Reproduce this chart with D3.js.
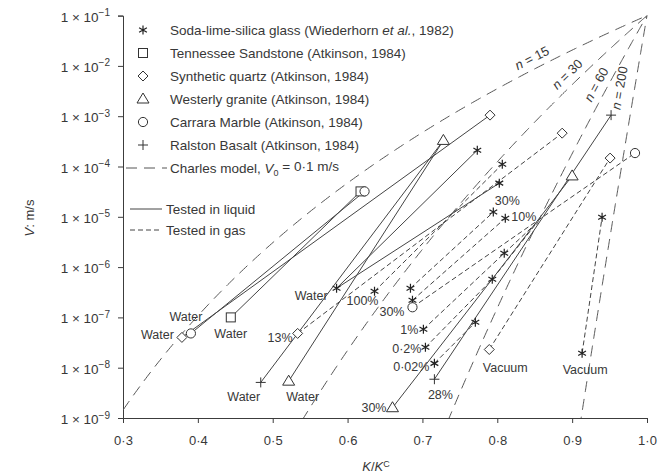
<!DOCTYPE html>
<html><head><meta charset="utf-8">
<script src="https://cdn.jsdelivr.net/npm/d3@7"></script>
<style>
body{margin:0;background:#fff}
text{font-family:"Liberation Sans",Arial,Helvetica,sans-serif;fill:#383838}
</style>
</head><body>
<svg id="chart" width="664" height="476"></svg>
<script>
// ---------- data ----------
const xTicks = [0.3, 0.4, 0.5, 0.6, 0.7, 0.8, 0.9, 1.0];
const xTickLabels = ["0·3", "0·4", "0·5", "0·6", "0·7", "0·8", "0·9", "1·0"];
const yTickExponents = [-1, -2, -3, -4, -5, -6, -7, -8, -9];

const V0 = 0.1;
const charlesN = [15, 30, 60, 200];
const charlesLabelK = [0.853, 0.9035, 0.945, 0.983];

const seriesKeys = ["glass", "sandstone", "quartz", "granite", "marble", "basalt"];
const legendLabels = [
  ["Soda-lime-silica glass (Wiederhorn ", "et al.", ", 1982)"],
  ["Tennessee Sandstone (Atkinson, 1984)"],
  ["Synthetic quartz (Atkinson, 1984)"],
  ["Westerly granite (Atkinson, 1984)"],
  ["Carrara Marble (Atkinson, 1984)"],
  ["Ralston Basalt (Atkinson, 1984)"]
];

// crack-velocity segments: [K/Kc start, V start, K/Kc end, V end, environment type]
const glassLines = [
  [0.5853, 3.8e-7, 0.7733, 2.11e-4, "liquid"],
  [0.5853, 3.8e-7, 0.8027, 4.67e-5, "liquid"],
  [0.636, 3.3e-7, 0.8067, 1.11e-4, "gas"],
  [0.684, 3.8e-7, 0.7947, 1.24e-5, "gas"],
  [0.6867, 2.19e-7, 0.8107, 9.38e-6, "gas"],
  [0.7013, 5.8e-8, 0.8093, 1.89e-6, "gas"],
  [0.8093, 1.89e-6, 0.853, 7.7e-6, "gas"],
  [0.704, 2.54e-8, 0.7933, 5.73e-7, "gas"],
  [0.7933, 5.73e-7, 0.853, 7.7e-6, "gas"],
  [0.716, 1.22e-8, 0.7707, 7.98e-8, "gas"],
  [0.9133, 1.93e-8, 0.94, 9.8e-6, "gas"]
];
const sandstoneLines = [
  [0.444, 1.0e-7, 0.6173, 3.2e-5, "liquid"]
];
const quartzLines = [
  [0.3787, 4.0e-8, 0.7903, 1.05e-3, "liquid"],
  [0.5333, 4.8e-8, 0.8867, 4.6e-4, "gas"],
  [0.7893, 2.3e-8, 0.9507, 1.47e-4, "gas"]
];
const graniteLines = [
  [0.5213, 5.4e-9, 0.728, 3.3e-4, "liquid"],
  [0.66, 1.6e-9, 0.90, 6.5e-5, "liquid"]
];
const marbleLines = [
  [0.3907, 4.8e-8, 0.6227, 3.2e-5, "liquid"],
  [0.6867, 1.59e-7, 0.984, 1.85e-4, "gas"]
];
const basaltLines = [
  [0.484, 5.1e-9, 0.728, 3.3e-4, "liquid"],
  [0.716, 5.9e-9, 0.952, 1.05e-3, "liquid"]
];

// marker points [K/Kc, V]
const glassPoints = [
  [0.5853, 3.8e-7], [0.636, 3.3e-7], [0.684, 3.8e-7], [0.6867, 2.19e-7],
  [0.7013, 5.8e-8], [0.704, 2.54e-8], [0.716, 1.22e-8], [0.9133, 1.93e-8],
  [0.7733, 2.11e-4], [0.8067, 1.11e-4], [0.8027, 4.67e-5], [0.7947, 1.24e-5],
  [0.8107, 9.38e-6], [0.8093, 1.89e-6], [0.7933, 5.73e-7], [0.7707, 7.98e-8], [0.94, 9.8e-6]
];
const sandstonePoints = [[0.444, 1.0e-7], [0.6173, 3.2e-5]];
const quartzPoints = [[0.3787, 4.0e-8], [0.7903, 1.05e-3], [0.5333, 4.8e-8], [0.8867, 4.6e-4], [0.7893, 2.3e-8], [0.9507, 1.47e-4]];
const granitePoints = [[0.5213, 5.4e-9], [0.728, 3.3e-4], [0.66, 1.6e-9], [0.90, 6.5e-5]];
const marblePoints = [[0.3907, 4.8e-8], [0.6227, 3.2e-5], [0.6867, 1.59e-7], [0.984, 1.85e-4]];
const basaltPoints = [[0.484, 5.1e-9], [0.716, 5.9e-9], [0.952, 1.05e-3]];

// annotations: [text, K/Kc, V, dx, dy, anchor]
const annotations = [
  ["Water", 0.3787, 4.0e-8, -8, -3, "end"],
  ["Water", 0.3907, 4.8e-8, -5, -17, "middle"],
  ["Water", 0.444, 1.0e-7, 0, 16, "middle"],
  ["13%", 0.5333, 4.8e-8, -5, 4, "end"],
  ["Water", 0.484, 5.1e-9, -17, 14, "middle"],
  ["Water", 0.5213, 5.4e-9, 14, 15, "middle"],
  ["Water", 0.5853, 3.8e-7, -9, 7, "end"],
  ["100%", 0.636, 3.3e-7, -12, 9, "middle"],
  ["30%", 0.6867, 1.59e-7, -8, 4, "end"],
  ["1%", 0.7013, 5.8e-8, -5, 0, "end"],
  ["0·2%", 0.704, 2.54e-8, -4, 1, "end"],
  ["0·02%", 0.716, 1.22e-8, -5, 3, "end"],
  ["28%", 0.716, 5.9e-9, 6, 15, "middle"],
  ["30%", 0.66, 1.6e-9, -6, 0, "end"],
  ["Vacuum", 0.7893, 2.3e-8, 16, 18, "middle"],
  ["Vacuum", 0.9133, 1.93e-8, 3, 16, "middle"],
  ["30%", 0.7947, 1.24e-5, 14, -11, "middle"],
  ["10%", 0.8107, 9.38e-6, 6, -2, "start"]
];

// ---------- drawing ----------
const svg = d3.select("#chart");
const x = d3.scaleLinear().domain([0.3, 1.0]).range([123, 647]);
const y = d3.scaleLog().domain([1e-9, 1e-1]).range([418, 15.6]);
const ink = "#3c3c3c";

// axes
const xAxis = d3.axisBottom(x).tickValues(xTicks).tickSize(5).tickFormat((d, i) => xTickLabels[i]);
const gx = svg.append("g").attr("transform", `translate(0,${y(1e-9)})`).call(xAxis);
gx.select(".domain").attr("stroke", ink);
gx.selectAll(".tick line").attr("stroke", ink);
gx.selectAll(".tick text").attr("dy", "1.45em").style("font-size", "13px").attr("fill", "#383838");

const yAxis = d3.axisLeft(y).tickValues(yTickExponents.map(e => Math.pow(10, e))).tickSize(5).tickFormat("");
const gy = svg.append("g").attr("transform", `translate(${x(0.3)},0)`).call(yAxis);
gy.select(".domain").attr("stroke", ink);
gy.selectAll(".tick line").attr("stroke", ink);
yTickExponents.forEach(e => {
  const t = svg.append("text").attr("x", 110).attr("y", y(Math.pow(10, e))).attr("dy", "0.45em")
    .attr("text-anchor", "end").style("font-size", "13.5px");
  t.append("tspan").text("1 × 10");
  t.append("tspan").attr("dy", "-0.55em").style("font-size", "10px").text("−" + Math.abs(e));
});

// axis titles
const xt = svg.append("text").attr("x", 376).attr("y", 471).attr("text-anchor", "middle").style("font-size", "13px");
xt.append("tspan").style("font-style", "italic").text("K");
xt.append("tspan").text("/");
xt.append("tspan").style("font-style", "italic").text("K");
xt.append("tspan").attr("dy", "-0.5em").style("font-size", "9px").text("C");

const yt = svg.append("text").attr("transform", "translate(34,218) rotate(-90)").attr("text-anchor", "middle").style("font-size", "13px");
yt.append("tspan").style("font-style", "italic").text("V");
yt.append("tspan").text(": m/s");

// clip
svg.append("clipPath").attr("id", "plotclip").append("rect")
  .attr("x", x(0.3)).attr("y", y(1e-1) - 2).attr("width", x(1.0) - x(0.3) + 2).attr("height", y(1e-9) - y(1e-1) + 2);
const plot = svg.append("g").attr("clip-path", "url(#plotclip)");

// Charles model curves
const line = d3.line().x(d => x(d[0])).y(d => y(d[1]));
charlesN.forEach(n => {
  const kmin = Math.max(0.3, Math.pow(1e-9 / V0, 1 / n) - 0.002);
  const pts = d3.range(0, 301).map(i => {
    const k = kmin + (1 - kmin) * i / 300;
    return [k, V0 * Math.pow(k, n)];
  });
  plot.append("path").attr("d", line(pts)).attr("fill", "none").attr("stroke", "#555")
    .attr("stroke-width", 1).attr("stroke-dasharray", "11,7");
});
// Charles labels
charlesN.forEach((n, i) => {
  const k = charlesLabelK[i];
  const px = x(k), py = y(V0 * Math.pow(k, n));
  const dk = 0.001;
  const slope = (y(V0 * Math.pow(k + dk, n)) - py) / (x(k + dk) - px);
  const ang = Math.atan(slope);
  const th = -ang;
  const off = n === 200 ? 15 : 11;
  const cx = px - off * Math.sin(th), cy = py - off * Math.cos(th);
  const t = svg.append("text").attr("transform", `translate(${cx},${cy}) rotate(${ang * 180 / Math.PI})`)
    .attr("text-anchor", "middle").attr("dy", "0.35em").style("font-size", "13px");
  t.append("tspan").style("font-style", "italic").text("n");
  t.append("tspan").text(" = " + n);
});

// data segments
const allLines = [glassLines, sandstoneLines, quartzLines, graniteLines, marbleLines, basaltLines];
allLines.forEach(arr => {
  arr.forEach(s => {
    plot.append("line").attr("x1", x(s[0])).attr("y1", y(s[1])).attr("x2", x(s[2])).attr("y2", y(s[3]))
      .attr("stroke", "#444").attr("stroke-width", 1)
      .attr("stroke-dasharray", s[4] === "gas" ? "5,3" : null);
  });
});

// markers
function drawMarker(g, key, cx, cy) {
  const st = {fill: "#fff", stroke: "#333", "stroke-width": 1};
  let el;
  if (key === "glass") {
    const r = 4.5, a = Math.PI / 6;
    g.append("path").attr("d",
      `M${cx},${cy - r}L${cx},${cy + r}M${cx - r * Math.cos(a)},${cy - r * Math.sin(a)}L${cx + r * Math.cos(a)},${cy + r * Math.sin(a)}M${cx - r * Math.cos(a)},${cy + r * Math.sin(a)}L${cx + r * Math.cos(a)},${cy - r * Math.sin(a)}`)
      .attr("stroke", "#222").attr("stroke-width", 1.2).attr("fill", "none");
    return;
  }
  if (key === "basalt") {
    g.append("path").attr("d", `M${cx - 5},${cy}L${cx + 5},${cy}M${cx},${cy - 5}L${cx},${cy + 5}`)
      .attr("stroke", "#333").attr("stroke-width", 1).attr("fill", "none");
    return;
  }
  if (key === "sandstone") el = g.append("rect").attr("x", cx - 4.5).attr("y", cy - 4.5).attr("width", 9).attr("height", 9);
  if (key === "quartz") el = g.append("path").attr("d", `M${cx},${cy - 5}L${cx + 5},${cy}L${cx},${cy + 5}L${cx - 5},${cy}Z`);
  if (key === "granite") el = g.append("path").attr("d", `M${cx},${cy - 6}L${cx + 6},${cy + 4}L${cx - 6},${cy + 4}Z`);
  if (key === "marble") el = g.append("circle").attr("cx", cx).attr("cy", cy).attr("r", 4.6);
  Object.entries(st).forEach(([k, v]) => el.attr(k, v));
}
const allPoints = [glassPoints, sandstonePoints, quartzPoints, granitePoints, marblePoints, basaltPoints];
const markerLayer = svg.append("g");
allPoints.forEach((arr, i) => arr.forEach(p => drawMarker(markerLayer, seriesKeys[i], x(p[0]), y(p[1]))));

// annotations
annotations.forEach(a => {
  svg.append("text").attr("x", x(a[1]) + a[3]).attr("y", y(a[2]) + a[4]).attr("dy", "0.35em")
    .attr("text-anchor", a[5]).style("font-size", "12.5px").text(a[0]);
});

// legend
const legend = svg.append("g");
const legY0 = 30, legStep = 23;
seriesKeys.forEach((key, i) => {
  const ly = legY0 + i * legStep;
  drawMarker(legend, key, 143, ly);
  const t = legend.append("text").attr("x", 170).attr("y", ly).attr("dy", "0.35em").style("font-size", "13.5px");
  legendLabels[i].forEach(part => {
    t.append("tspan").style("font-style", part === "et al." ? "italic" : null).text(part);
  });
});
// Charles legend
const cy0 = legY0 + 6 * legStep;
legend.append("line").attr("x1", 126).attr("x2", 167).attr("y1", cy0).attr("y2", cy0)
  .attr("stroke", "#555").attr("stroke-dasharray", "11,7");
const ct = legend.append("text").attr("x", 170).attr("y", cy0).attr("dy", "0.35em").style("font-size", "13.5px");
ct.append("tspan").text("Charles model, ");
ct.append("tspan").style("font-style", "italic").text("V");
ct.append("tspan").attr("dy", "0.35em").style("font-size", "9px").text("0");
ct.append("tspan").attr("dy", "-0.35em").text(" = 0·1 m/s");
// liquid / gas legend
[["Tested in liquid", null, 209], ["Tested in gas", "5,3", 230]].forEach(r => {
  legend.append("line").attr("x1", 130).attr("x2", 162).attr("y1", r[2]).attr("y2", r[2])
    .attr("stroke", "#444").attr("stroke-dasharray", r[1]);
  legend.append("text").attr("x", 166).attr("y", r[2]).attr("dy", "0.35em").style("font-size", "13.5px").text(r[0]);
});
</script>
</body></html>
